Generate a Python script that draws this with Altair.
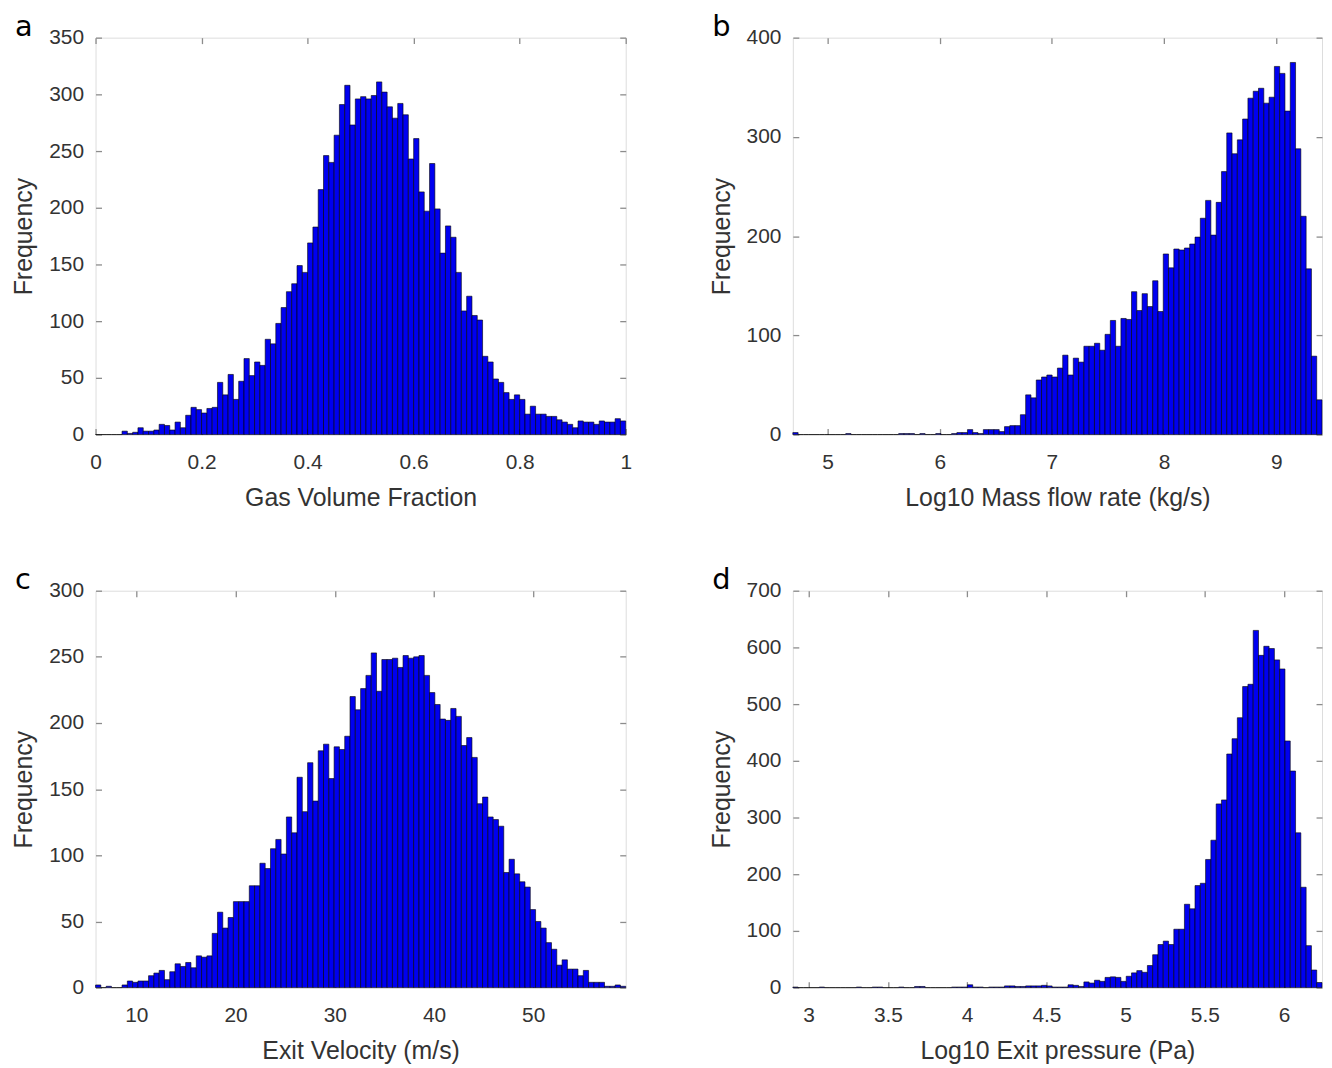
import altair as alt
import numpy as np
import pandas as pd

# ---------------- data (histogram counts, 100 bins each) ----------------
a_range = [0.0, 1.0]
a_counts = [0, 0, 0, 0, 0, 3, 1, 2, 6, 3, 3, 4, 9, 8, 4, 11, 6,
            17, 24, 22, 19, 23, 24,
            46, 35, 53, 31, 47, 67, 52, 64, 61, 84, 80, 98, 112, 126, 133, 149, 143,
            169, 183, 216, 246, 240, 264, 291, 308,
            273, 296, 298, 296, 299, 311, 302, 289, 279, 292,
            282, 243, 261, 214, 197, 239, 199, 160, 184, 174,
            143, 109, 122, 105, 101, 69, 64, 49, 46, 37,
            31, 35, 31, 18, 25, 18, 18, 16, 16, 13,
            11, 9, 6, 12, 11, 11, 9, 12, 11, 11, 14, 12]
a_xticks = [0, 0.2, 0.4, 0.6, 0.8, 1]
a_yticks = [0, 50, 100, 150, 200, 250, 300, 350]

b_range = [4.69, 9.408]
b_counts = [2, 0, 0, 0, 0, 0, 0, 0, 0, 0, 1, 0, 0, 0, 0, 0, 0, 0, 0, 0,
            1, 1, 1, 0, 1, 0, 0, 1, 0, 0, 1, 2, 2, 5, 2, 1, 5, 5, 5, 3,
            8, 9, 9, 20, 40, 37, 55, 58,
            60, 58, 67, 80, 60, 77, 73, 89, 89, 92,
            85, 101, 115, 89, 117, 116, 144, 125, 142, 129,
            155, 124, 182, 168, 187, 186, 188, 192, 199, 218,
            236, 201, 234, 265, 304, 283, 297, 318, 339, 346,
            349, 334, 340, 371, 364, 326, 375, 288, 220, 167, 79, 35]
b_xticks = [5, 6, 7, 8, 9]
b_yticks = [0, 100, 200, 300, 400]

c_range = [5.89, 59.32]
c_counts = [2, 0, 1, 0, 0, 2, 5, 4, 5, 5, 9, 11, 13, 6, 12, 18, 16, 19, 15, 24,
            23, 24, 41, 57, 45, 53, 65, 65, 65, 77, 77, 94, 90, 105, 112, 101, 129, 117,
            159, 133, 170, 141, 179, 184, 158, 182, 180, 190,
            220, 210, 226, 236, 253, 224, 248, 248, 249, 242,
            251, 249, 250, 251, 236, 223, 214, 203, 202, 211,
            205, 183, 189, 174, 139, 144, 129, 127, 122, 87,
            97, 86, 80, 76, 59, 50, 45, 34, 29, 17,
            21, 14, 14, 9, 13, 4, 4, 4, 1, 1, 2, 1]
c_xticks = [10, 20, 30, 40, 50]
c_yticks = [0, 50, 100, 150, 200, 250, 300]

d_range = [2.90, 6.239]
d_counts = [1, 0, 0, 0, 0, 1, 0, 0, 0, 0, 0, 0, 1, 0, 0, 1, 1, 0, 0, 0,
            1, 0, 0, 2, 2, 0, 0, 0, 0, 0, 1, 1, 1, 5, 1, 1, 0, 1, 1, 1,
            3, 3, 2, 2, 3, 3, 3, 4,
            3, 1, 1, 1, 5, 4, 2, 10, 8, 13,
            11, 18, 19, 18, 11, 20, 26, 30, 27, 39,
            58, 76, 82, 76, 103, 103, 147, 139, 180, 184,
            226, 260, 324, 331, 412, 439, 476, 531, 535, 630,
            586, 602, 598, 578, 562, 435, 382, 273, 177, 74, 31, 9]
d_xticks = [3, 3.5, 4, 4.5, 5, 5.5, 6]
d_yticks = [0, 100, 200, 300, 400, 500, 600, 700]

# ---------------- style ----------------
FONT = "Liberation Sans"
TXT = "#333333"
BOX = "#8c8c8c"
BLUE = "#0000F0"
W1, W2, H = 533, 532, 399


def panel(counts, rng, xticks, yticks, xtitle, letter, w):
    n = len(counts)
    edges = np.linspace(rng[0], rng[1], n + 1)
    df = pd.DataFrame({"x0": edges[:-1], "x1": edges[1:], "c": counts})
    xs = alt.Scale(domain=rng, nice=False, zero=False)
    ys = alt.Scale(domain=[0, yticks[-1]], nice=False)
    base = alt.Chart(df)

    bars = base.mark_bar(color=BLUE, stroke="#000000", strokeWidth=0.6).encode(
        x=alt.X("x0:Q", scale=xs, axis=alt.Axis(
            values=xticks, format="~f", ticks=False, tickSize=0, domain=False, grid=False,
            labelPadding=17, labelBaseline="top", labelFont=FONT, labelFontSize=21,
            labelColor=TXT, labelFlush=False, labelOverlap=False,
            title=xtitle, titleFont=FONT, titleFontSize=25, titleFontWeight="normal",
            titleColor=TXT, titleBaseline="alphabetic", titleY=71)),
        x2="x1:Q",
        y=alt.Y("c:Q", scale=ys, axis=alt.Axis(
            values=yticks, format="d", ticks=False, tickSize=0, domain=False, grid=False,
            labelPadding=12, labelFont=FONT, labelFontSize=21, labelColor=TXT,
            labelFlush=False, labelOverlap=False,
            title="Frequency", titleFont=FONT, titleFontSize=25, titleFontWeight="normal",
            titleColor=TXT, titleBaseline="alphabetic", titleAngle=270, titleX=-64,
            titleY=H / 2)),
        y2=alt.datum(0),
    )
    tick_kw = dict(labels=False, title=None, domain=False, grid=False, ticks=True,
                   tickSize=6, tickColor=BOX, tickWidth=1.3)
    t1 = base.mark_bar(opacity=0).encode(
        x=alt.X("x0:Q", scale=xs, axis=alt.Axis(orient="top", offset=-H, values=xticks, **tick_kw)),
        x2="x1:Q",
        y=alt.Y("c:Q", scale=ys, axis=alt.Axis(orient="right", offset=-w, values=yticks, **tick_kw)),
        y2=alt.datum(0),
    )
    t2 = base.mark_bar(opacity=0).encode(
        x=alt.X("x0:Q", scale=xs, axis=alt.Axis(orient="bottom", offset=-H, values=xticks, **tick_kw)),
        x2="x1:Q",
        y=alt.Y("c:Q", scale=ys, axis=alt.Axis(orient="left", offset=-w, values=yticks, **tick_kw)),
        y2=alt.datum(0),
    )
    return alt.layer(bars, t1, t2).resolve_axis(x="independent", y="independent").properties(
        width=w, height=H,
        title=alt.TitleParams(text=letter, anchor="start", frame="group", dx=-81, offset=-38,
                              font="DejaVu Sans", fontSize=29, fontWeight="normal",
                              color="#000000", baseline="alphabetic"))


pa = panel(a_counts, a_range, a_xticks, a_yticks, "Gas Volume Fraction", "a", W1)
pb = panel(b_counts, b_range, b_xticks, b_yticks, "Log10 Mass flow rate (kg/s)", "b", W2)
pc = panel(c_counts, c_range, c_xticks, c_yticks, "Exit Velocity (m/s)", "c", W1)
pd_ = panel(d_counts, d_range, d_xticks, d_yticks, "Log10 Exit pressure (Pa)", "d", W2)

chart = alt.concat(pa, pb, pc, pd_, columns=2, spacing={"row": 157, "column": 168},
                   bounds="flush").properties(
    padding={"left": 3, "top": 1, "right": 0, "bottom": 0}
).configure_view(stroke=BOX, strokeWidth=1.6).configure(background="white")

chart.save("out.html", embed_options={"renderer": "svg", "actions": False})
